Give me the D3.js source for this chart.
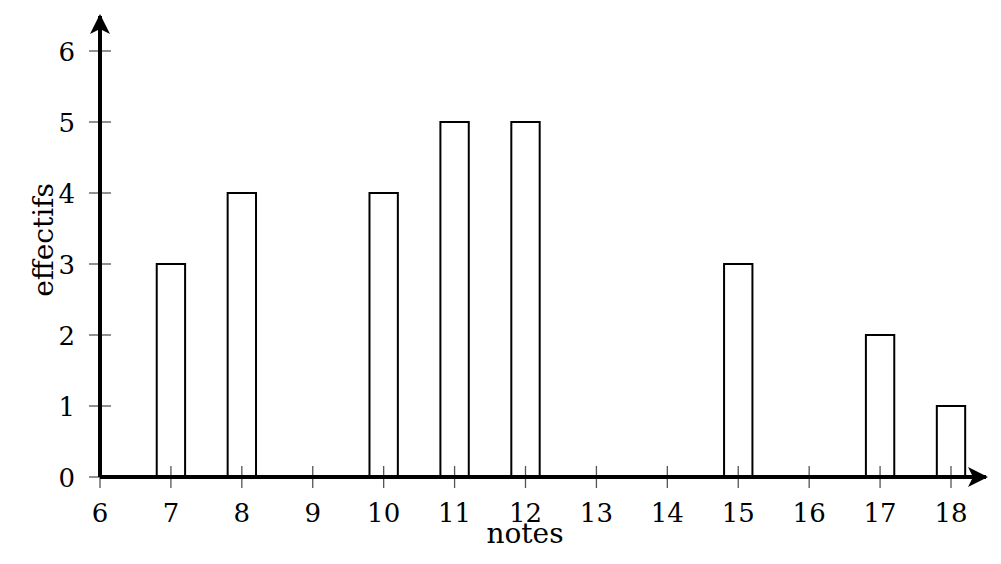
<!DOCTYPE html>
<html><head><meta charset="utf-8">
<script src="https://cdn.jsdelivr.net/npm/d3@7"></script>
<style>body{margin:0;background:#fff}svg{display:block}text{font-family:"DejaVu Serif",serif;fill:#000}</style>
</head><body>
<script>
const notes = [7, 8, 10, 11, 12, 15, 17, 18];
const effectifs = [3, 4, 4, 5, 5, 3, 2, 1];
const xTicks = [6,7,8,9,10,11,12,13,14,15,16,17,18];
const yTicks = [0,1,2,3,4,5,6];

const W = 1001, H = 564;
const svg = d3.select("body").append("svg").attr("width", W).attr("height", H);
const x = d3.scaleLinear().domain([6, 18]).range([100, 951]);
const y = d3.scaleLinear().domain([0, 6]).range([477, 51]);
const barW = x(6.4) - x(6);

svg.append("defs").append("marker").attr("id","arr").attr("viewBox","0 0 10 10")
  .attr("refX",9).attr("refY",5).attr("markerWidth",5).attr("markerHeight",5)
  .attr("markerUnits","strokeWidth").attr("orient","auto")
  .append("path").attr("d","M0,0 L10,5 L0,10 L2.5,5 Z").attr("fill","#000");

// bars
svg.selectAll("rect.bar").data(notes).enter().append("rect")
  .attr("x", (d) => x(d) - barW/2)
  .attr("y", (d,i) => y(effectifs[i]))
  .attr("width", barW)
  .attr("height", (d,i) => y(0) - y(effectifs[i]))
  .attr("fill","#fff").attr("stroke","#000").attr("stroke-width",2);

// ticks
const g = svg.append("g");
g.selectAll("line.xt").data(xTicks).enter().append("line")
  .attr("x1", d => x(d)).attr("x2", d => x(d))
  .attr("y1", y(0)-11).attr("y2", y(0)+11)
  .attr("stroke","#555").attr("stroke-width",1.3);
g.selectAll("line.yt").data(yTicks).enter().append("line")
  .attr("x1", x(6)-11).attr("x2", x(6)+11)
  .attr("y1", d => y(d)).attr("y2", d => y(d))
  .attr("stroke","#555").attr("stroke-width",1.3);

// axes
svg.append("line").attr("x1", x(6)).attr("y1", y(0)).attr("x2", 986).attr("y2", y(0))
  .attr("stroke","#000").attr("stroke-width",4).attr("marker-end","url(#arr)");
svg.append("line").attr("x1", x(6)).attr("y1", y(0)).attr("x2", x(6)).attr("y2", 16)
  .attr("stroke","#000").attr("stroke-width",4).attr("marker-end","url(#arr)");

// labels
svg.selectAll("text.xl").data(xTicks).enter().append("text")
  .attr("x", d => x(d)).attr("y", 522).attr("text-anchor","middle")
  .attr("font-size",26).text(d => d);
svg.selectAll("text.yl").data(yTicks).enter().append("text")
  .attr("x", 75).attr("y", d => y(d) + 9.5).attr("text-anchor","end")
  .attr("font-size",26).text(d => d);

svg.append("text").attr("x", 525).attr("y", 543).attr("text-anchor","middle")
  .attr("font-size",28).text("notes");
svg.append("text").attr("transform","translate(53,240) rotate(-90)").attr("text-anchor","middle")
  .attr("font-size",28).text("effectifs");
</script>
</body></html>
